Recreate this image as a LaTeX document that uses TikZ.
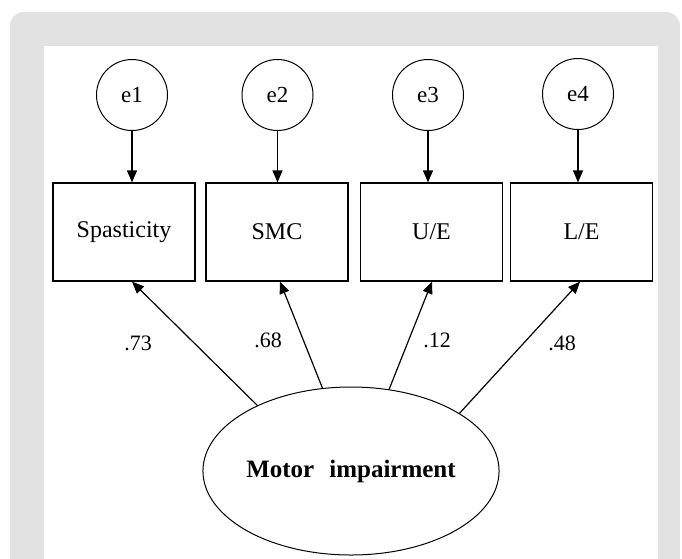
\documentclass[tikz,border=0pt]{standalone}
\usepackage{fontspec}
\setmainfont{Liberation Serif}
\usetikzlibrary{arrows.meta,shapes.geometric}
\definecolor{panelgray}{HTML}{E2E2E2}
\begin{document}
\begin{tikzpicture}[x=1pt,y=-1pt,
  errc/.style={draw,circle,minimum size=71pt,inner sep=0pt,line width=1pt,font=\fontsize{23}{26}\selectfont},
  obsbox/.style={draw,rectangle,minimum width=142pt,minimum height=98pt,inner sep=0pt,line width=1.2pt,font=\fontsize{24}{28}\selectfont},
  latent/.style={draw,ellipse,minimum width=292pt,minimum height=168pt,inner sep=0pt,line width=1pt,font=\bfseries\fontsize{25}{30}\selectfont},
  pathar/.style={line width=1.2pt,-{Triangle[length=12pt,width=10pt]}},
  coef/.style={inner sep=0pt,font=\fontsize{22}{26}\selectfont}]
\useasboundingbox (0,0) rectangle (682,558);
\fill[panelgray,rounded corners=14pt] (10,12) rectangle (680,590);
\fill[white] (44,46) rectangle (658,570);
% error terms
\node[errc] (e1) at (132,95) {e1};
\node[errc] (e2) at (277.5,95) {e2};
\node[errc] (e3) at (428,95) {e3};
\node[errc] (e4) at (578,94) {e4};
% observed variables
\node[obsbox] (s1) at (124,232) {Spasticity};
\node[obsbox] (s2) at (277,232) {SMC};
\node[obsbox] (s3) at (431.5,232) {U/E};
\node[obsbox] (s4) at (581.5,232) {L/E};
% latent
\node[latent] (mi) at (351,471) {Motor\hspace{0.6em}impairment};
% error arrows
\draw[pathar] (e1) -- (e1 |- s1.north);
\draw[pathar] (e2) -- (e2 |- s2.north);
\draw[pathar] (e3) -- (e3 |- s3.north);
\draw[pathar] (e4) -- (e4 |- s4.north);
% loadings
\draw[pathar] (mi.145) -- ([xshift=8pt]s1.south);
\draw[pathar] (mi.109.4) -- ([xshift=3pt]s2.south);
\draw[pathar] (mi.65.7) -- ([xshift=0.5pt]s3.south);
\draw[pathar] (mi.28) -- ([xshift=-1.5pt]s4.south);
% coefficients
\node[coef] (c1) at (138,343) {.73};
\node[coef] (c2) at (268,340) {.68};
\node[coef] (c3) at (437,340) {.12};
\node[coef] (c4) at (562,343) {.48};
\end{tikzpicture}
\end{document}
